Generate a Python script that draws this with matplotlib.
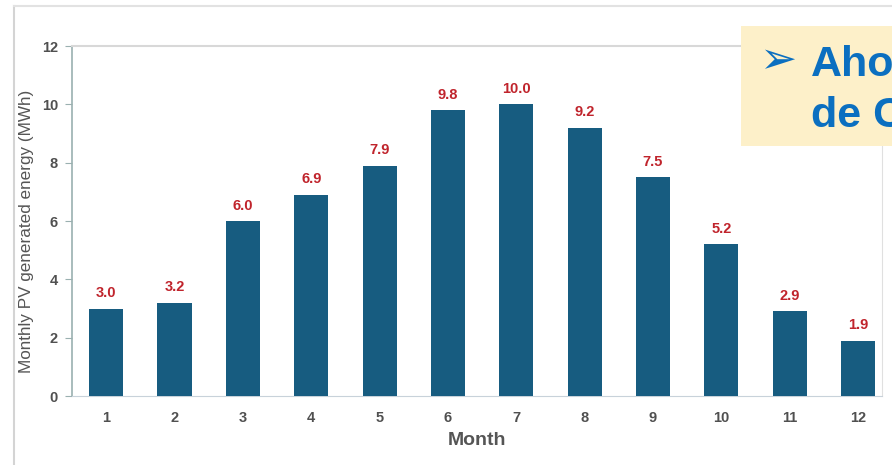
import matplotlib
matplotlib.use("Agg")
import matplotlib.pyplot as plt
from matplotlib.patches import Rectangle
from matplotlib.lines import Line2D

months = list(range(1, 13))
energy = [3.0, 3.2, 6.0, 6.9, 7.9, 9.8, 10.0, 9.2, 7.5, 5.2, 2.9, 1.9]
value_labels = ["3.0", "3.2", "6.0", "6.9", "7.9", "9.8", "10.0", "9.2", "7.5", "5.2", "2.9", "1.9"]
yticks = [0, 2, 4, 6, 8, 10, 12]
xlabel = "Month"
ylabel = "Monthly PV generated energy (MWh)"
box_line1 = "Aho"
box_line2 = "de C"

W, H = 892, 465
fig = plt.figure(figsize=(W / 100, H / 100), dpi=100)
fig.patch.set_facecolor("white")

# outer slide frame
fig.add_artist(Line2D([14 / W, 14 / W], [0, 1 - 6 / H], color="#d4d4d4", lw=1.5))
fig.add_artist(Line2D([14 / W, 1], [1 - 6 / H, 1 - 6 / H], color="#e2e2e2", lw=1.5))

ax = fig.add_axes([72 / W, 1 - 396 / H, (882 - 72) / W, (396 - 46) / H])
bar_color = "#175c80"
ax.bar(months, energy, width=0.5, color=bar_color, zorder=3)
for m, v, lab in zip(months, energy, value_labels):
    ax.annotate(lab, (m, v), xytext=(0, 6), textcoords="offset points",
                ha="center", va="bottom", color="#c0242c", fontsize=10.5,
                fontweight="bold", family="Liberation Sans")

ax.set_xlim(0.50, 12.35)
ax.set_ylim(0, 12)
ax.set_yticks(yticks)
ax.set_xticks(months)
ax.tick_params(axis="y", length=5, color="#9ab0b0", labelsize=10.5,
               labelcolor="#505050", pad=5)
ax.tick_params(axis="x", length=0, labelsize=10.5, labelcolor="#505050", pad=11)
for lab in ax.get_xticklabels() + ax.get_yticklabels():
    lab.set_fontweight("bold")
    lab.set_family("Liberation Sans")

ax.spines["left"].set_color("#9ab0b0")
ax.spines["left"].set_linewidth(1.2)
ax.spines["bottom"].set_color("#c8d2da")
ax.spines["top"].set_color("#d8d8d8")
ax.spines["top"].set_linewidth(1.5)
ax.spines["right"].set_color("#e0e0e0")

ax.set_xlabel(xlabel, fontsize=14, fontweight="bold", color="#555555",
              family="Liberation Sans", labelpad=5)
ax.set_ylabel(ylabel, fontsize=12.3, color="#555555", family="Liberation Sans")
ax.yaxis.set_label_coords(-0.047, 0.47)

# yellow call-out box
fig.add_artist(Rectangle((741 / W, 1 - 146 / H), (W - 741) / W, 120 / H,
                         transform=fig.transFigure, facecolor="#fdf0c9",
                         edgecolor="none", zorder=5))
fig.text(759 / W, 1 - 61 / H, "\u27a2", fontsize=32, color="#0b6fc0",
         family="DejaVu Sans", va="center", ha="left", zorder=6)
fig.text(811 / W, 1 - 76 / H, box_line1, fontsize=31, color="#0b6fc0",
         fontweight="bold", family="Liberation Sans", va="baseline", ha="left", zorder=6)
fig.text(811 / W, 1 - 127 / H, box_line2, fontsize=31, color="#0b6fc0",
         fontweight="bold", family="Liberation Sans", va="baseline", ha="left", zorder=6)

fig.savefig("out.png", dpi=100)
